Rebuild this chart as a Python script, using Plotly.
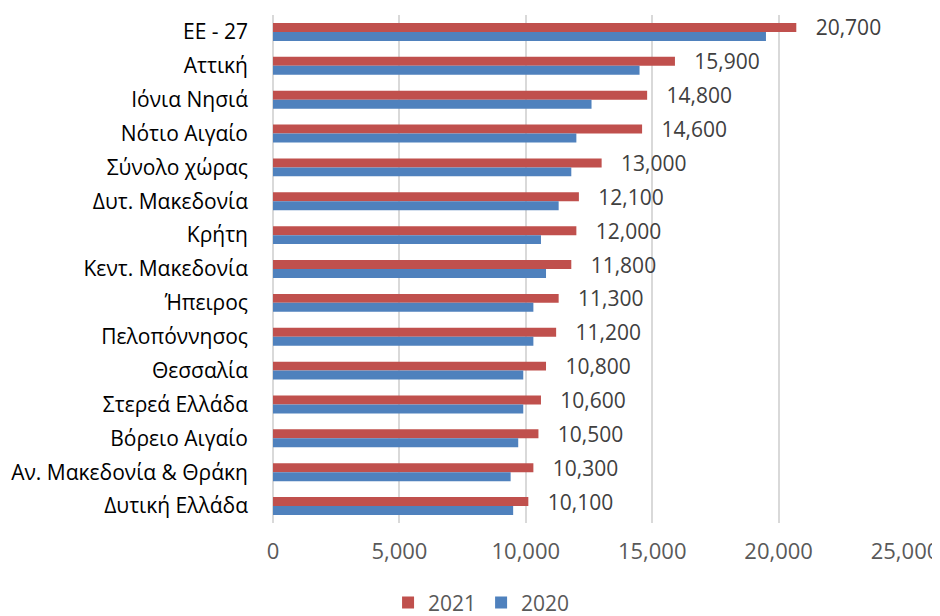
import plotly.graph_objects as go

categories = ["ΕΕ - 27", "Αττική", "Ιόνια Νησιά", "Νότιο Αιγαίο", "Σύνολο χώρας",
              "Δυτ. Μακεδονία", "Κρήτη", "Κεντ. Μακεδονία", "Ήπειρος", "Πελοπόννησος",
              "Θεσσαλία", "Στερεά Ελλάδα", "Βόρειο Αιγαίο", "Αν. Μακεδονία & Θράκη", "Δυτική Ελλάδα"]
values_2021 = [20700, 15900, 14800, 14600, 13000, 12100, 12000, 11800, 11300, 11200,
               10800, 10600, 10500, 10300, 10100]
values_2020 = [19500, 14500, 12600, 12000, 11800, 11300, 10600, 10800, 10300, 10300,
               9900, 9900, 9700, 9400, 9500]
tick_vals = [0, 5000, 10000, 15000, 20000, 25000]
tick_text = ["0", "5,000", "10,000", "15,000", "20,000", "25,000"]

FONT = "Open Sans"

fig = go.Figure()
fig.add_trace(go.Bar(
    y=categories, x=values_2021, name="2021", orientation="h",
    marker=dict(color="#C0504D", line=dict(width=0)),
    text=[f"{v:,}" for v in values_2021],
    texttemplate="   %{text}",
    textposition="outside", cliponaxis=False, constraintext="none",
    textfont=dict(family=FONT, size=21, color="#404040"),
))
fig.add_trace(go.Bar(
    y=categories, x=values_2020, name="2020", orientation="h",
    marker=dict(color="#4F81BD", line=dict(width=0)),
))

fig.update_layout(
    width=940, height=616,
    margin=dict(l=265, r=43, t=7, b=101, autoexpand=False),
    barmode="group", bargap=0.47, bargroupgap=0,
    plot_bgcolor="white", paper_bgcolor="white",
    font=dict(family=FONT, size=20, color="#000000"),
    legend=dict(orientation="h", x=0.33, xanchor="center", y=-0.157, yanchor="middle",
                font=dict(family=FONT, size=21, color="#595959"), traceorder="normal",
                itemwidth=30),
    xaxis=dict(range=[0, 25000], tickvals=tick_vals, ticktext=tick_text,
               showgrid=True, gridcolor="#D9D9D9", gridwidth=1.5,
               zeroline=True, zerolinecolor="#D9D9D9", zerolinewidth=1.5,
               showline=False, ticks="", ticklabelstandoff=13, automargin=False,
               tickfont=dict(family=FONT, size=22, color="#595959")),
    yaxis=dict(autorange="reversed", showgrid=False, showline=False, ticks="",
               ticklabelstandoff=24, automargin=False,
               tickfont=dict(family=FONT, size=21, color="#000000")),
)

fig.write_html("out.html")
